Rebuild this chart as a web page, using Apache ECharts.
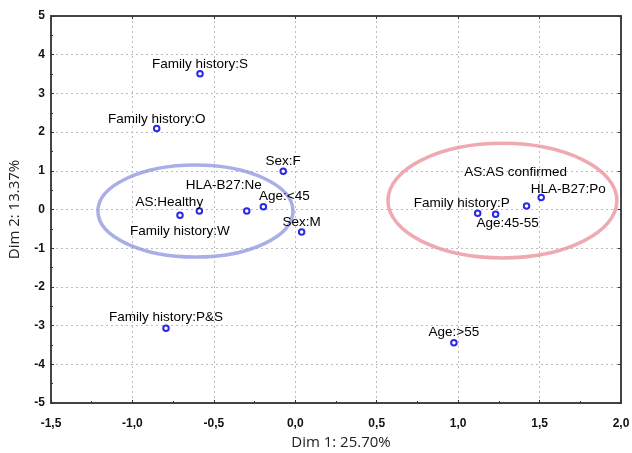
<!DOCTYPE html>
<html>
<head>
<meta charset="utf-8">
<script src="https://cdn.jsdelivr.net/npm/echarts@6/dist/echarts.min.js"></script>
<style>
html,body{margin:0;padding:0;background:#fff;}
#chart{width:632px;height:453px;}
</style>
</head>
<body>
<div id="chart"></div>
<script>
// ---- data ----
const pointLabels = [
  'Family history:S', 'Family history:O', 'Sex:F', 'Family history:W', 'AS:Healthy',
  'HLA-B27:Ne', 'Age:<45', 'Sex:M', 'Family history:P&S', 'Family history:P',
  'Age:45-55', 'AS:AS confirmed', 'HLA-B27:Po', 'Age:>55'
];
const dim1 = [-0.585, -0.851, -0.074, -0.708, -0.589, -0.298, -0.196, 0.039, -0.794, 1.12, 1.23, 1.42, 1.51, 0.974];
const dim2 = [3.51, 2.09, 0.99, -0.15, -0.04, -0.04, 0.07, -0.58, -3.07, -0.10, -0.12, 0.09, 0.31, -3.44];

const ellipseCx = [-0.613, 1.272];
const ellipseCy = [-0.04, 0.23];
const ellipseRx = [0.599, 0.703];
const ellipseRy = [1.19, 1.48];

const xAxisName = 'Dim 1: 25.70%';
const yAxisName = 'Dim 2: 13.37%';

// ---- styling (label placement, pixels) ----
const labelOffsets = [
  [0, -9], [0, -9], [0, -10], [0, 16], [-30, -9],
  [-23, -26], [21, -11], [0, -10], [0, -11], [-16, -10],
  [12, 9], [-11, -34], [27, -8], [0, -10]
];
const ellipseColors = ['rgba(140,148,222,0.75)', 'rgba(234,140,150,0.75)'];

const scatterData = pointLabels.map((name, i) => ({
  name: name,
  value: [dim1[i], dim2[i]]
}));
const ellipseData = ellipseCx.map((cx, i) => [cx, ellipseCy[i], ellipseRx[i], ellipseRy[i]]);

const chart = echarts.init(document.getElementById('chart'), null, {renderer: 'canvas'});
const axisLineStyle = { color: '#444', width: 2 };
const gridLine = { show: true, lineStyle: { color: '#bcbcbc', width: 1, type: [2, 3] } };
const tickStyle = { color: '#333', width: 1 };

chart.setOption({
  animation: false,
  grid: { left: 51, right: 11, top: 16, bottom: 50, show: true, borderColor: '#444', borderWidth: 2,
          containLabel: false, outerBoundsMode: 'none' },
  xAxis: [{
    type: 'value', min: -1.5, max: 2.0, interval: 0.5,
    name: xAxisName, nameLocation: 'middle', nameGap: 31,
    nameTextStyle: { fontFamily: 'Open Sans', fontSize: 15, color: '#222', padding: [0, 0, 0, 10] },
    axisLine: { show: true, onZero: false, lineStyle: axisLineStyle },
    axisTick: { show: true, inside: true, length: 3, lineStyle: tickStyle },
    minorTick: { show: true, splitNumber: 2, length: 2, lineStyle: tickStyle },
    axisLabel: { margin: 15, fontFamily: 'Liberation Sans', fontWeight: 'bold', fontSize: 12, color: '#111',
      formatter: v => v.toFixed(1).replace('.', ',') },
    splitLine: gridLine
  }, {
    type: 'value', position: 'top', min: -1.5, max: 2.0, interval: 0.5,
    axisLine: { show: true, onZero: false, lineStyle: axisLineStyle },
    axisTick: { show: true, inside: true, length: 3, lineStyle: tickStyle },
    axisLabel: { show: false }, splitLine: { show: false }
  }],
  yAxis: [{
    type: 'value', min: -5, max: 5, interval: 1,
    name: yAxisName, nameLocation: 'middle', nameGap: 29, nameRotate: 90,
    nameTextStyle: { fontFamily: 'Open Sans', fontSize: 15, color: '#222' },
    axisLine: { show: true, onZero: false, lineStyle: axisLineStyle },
    axisTick: { show: true, inside: true, length: 3, lineStyle: tickStyle },
    minorTick: { show: true, splitNumber: 2, length: 2, lineStyle: tickStyle },
    axisLabel: { margin: 6, fontFamily: 'Liberation Sans', fontWeight: 'bold', fontSize: 12, color: '#111' },
    splitLine: gridLine
  }, {
    type: 'value', position: 'right', min: -5, max: 5, interval: 1,
    axisLine: { show: true, onZero: false, lineStyle: axisLineStyle },
    axisTick: { show: true, inside: true, length: 3, lineStyle: tickStyle },
    axisLabel: { show: false }, splitLine: { show: false }
  }],
  series: [{
    type: 'custom',
    xAxisIndex: 0, yAxisIndex: 0,
    data: ellipseData,
    z: 1,
    silent: true,
    renderItem: function (params, api) {
      const c = api.coord([api.value(0), api.value(1)]);
      const s = api.size([api.value(2), api.value(3)]);
      return {
        type: 'ellipse',
        shape: { cx: c[0], cy: c[1], rx: s[0], ry: s[1] },
        style: { fill: 'none', stroke: ellipseColors[params.dataIndex], lineWidth: 3.5 }
      };
    }
  }, {
    type: 'scatter',
    xAxisIndex: 0, yAxisIndex: 0,
    z: 3,
    symbol: 'emptyCircle',
    symbolSize: 5.5,
    itemStyle: { color: '#2a2ae6', borderColor: '#2a2ae6', borderWidth: 1.3, opacity: 1 },
    label: {
      show: true, position: 'inside', formatter: '{b}',
      fontFamily: 'Liberation Sans', fontSize: 13.5, color: '#000'
    },
    labelLayout: function (params) {
      const o = labelOffsets[params.dataIndex];
      return { dx: o[0], dy: o[1], hideOverlap: false };
    },
    data: scatterData
  }]
});
</script>
</body>
</html>
